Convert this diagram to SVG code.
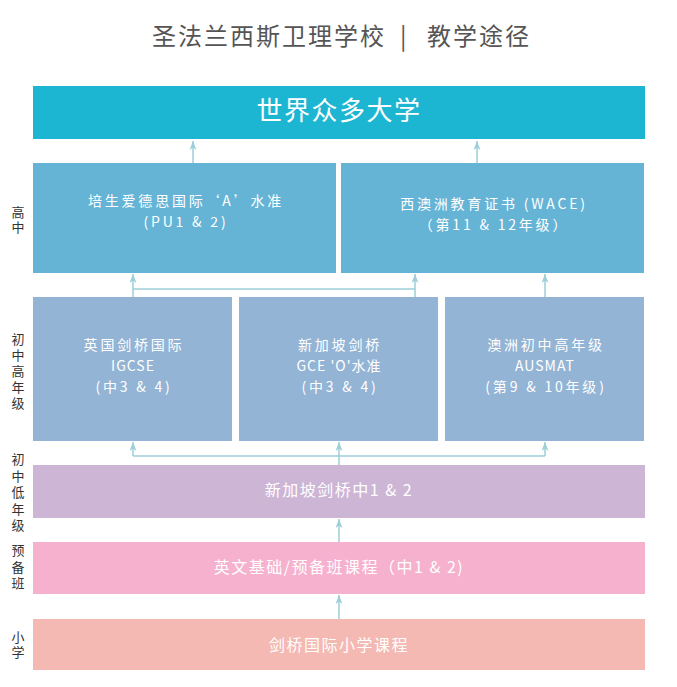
<svg xmlns="http://www.w3.org/2000/svg" width="677" height="687" viewBox="0 0 677 687">
<style>
  .bg{fill:#ffffff}
  .t{font-family:"Noto Sans CJK SC","Liberation Sans",sans-serif;fill:#ffffff;text-anchor:middle;letter-spacing:1.5px}
  .n16{font-size:16px}
  .n14{font-size:14px;letter-spacing:2.8px}
  .lat{letter-spacing:1px}
  .lab{font-family:"Noto Sans CJK SC","Liberation Serif",serif;font-size:13px;fill:#333333;writing-mode:vertical-rl;text-orientation:upright}
  .title{font-family:"Noto Sans CJK SC","Liberation Sans",sans-serif;font-size:24px;fill:#555555;letter-spacing:2px}
  .c{fill:none;stroke:#9ccfd8;stroke-width:1.5}
  .ca{fill:none;stroke:#9ccfd8;stroke-width:1.5;marker-end:url(#ah)}
</style>
<defs>
  <marker id="ah" viewBox="0 0 9 7" refX="9" refY="3.5" markerWidth="9" markerHeight="7" markerUnits="userSpaceOnUse" orient="auto">
    <path d="M0,0 L9,3.5 L0,7 L2.5,3.5 z" fill="#9ccfd8"/>
  </marker>
</defs>
<rect class="bg" x="0" y="0" width="677" height="687"/>

<g id="title">
  <text class="title" y="45"><tspan x="152">圣法兰西斯卫理学校</tspan><tspan x="400">|</tspan><tspan x="427">教学途径</tspan></text>
</g>

<g id="levels">
  <text class="lab" x="18" y="206" style="letter-spacing:2px">高中</text>
  <text class="lab" x="18" y="333" style="letter-spacing:3px">初中高年级</text>
  <text class="lab" x="18" y="453" style="letter-spacing:3.5px">初中低年级</text>
  <text class="lab" x="18" y="544" style="letter-spacing:3.5px">预备班</text>
  <text class="lab" x="18" y="631" style="letter-spacing:2px">小学</text>
</g>

<g id="connectors">
  <path class="ca" d="M193,163 V141"/>
  <path class="ca" d="M477,163 V141"/>
  <path class="c" d="M133,289 H415"/>
  <path class="ca" d="M133,297 V274"/>
  <path class="ca" d="M415,297 V274"/>
  <path class="ca" d="M545,297 V274"/>
  <path class="c" d="M133,456 H545"/>
  <path class="ca" d="M133,456 V442"/>
  <path class="ca" d="M339,465 V442"/>
  <path class="ca" d="M545,456 V442"/>
  <path class="ca" d="M339,542 V519"/>
  <path class="ca" d="M339,619 V595"/>
</g>

<g id="universities">
  <rect x="33" y="86" width="612" height="53" fill="#1cb6d3"/>
  <text class="t" x="339" y="120" style="font-size:26px">世界众多大学</text>
</g>

<g id="alevel">
  <rect x="33" y="163" width="303" height="110" fill="#65b4d6"/>
  <text class="t n14" x="186" y="206">培生爱德思国际‘A’水准</text>
  <text class="t n14" x="186" y="227">(PU1 &amp; 2)</text>
</g>

<g id="wace">
  <rect x="341" y="163" width="303" height="110" fill="#65b4d6"/>
  <text class="t n14" x="494" y="209">西澳洲教育证书 (WACE)</text>
  <text class="t n14" x="494" y="230">（第11 &amp; 12年级）</text>
</g>

<g id="igcse">
  <rect x="33" y="297" width="199" height="144" fill="#93b4d5"/>
  <text class="t n14" x="134" y="350">英国剑桥国际</text>
  <text class="t n14 lat" x="133" y="371">IGCSE</text>
  <text class="t n14" x="134" y="392">(中3 &amp; 4)</text>
</g>

<g id="olevel">
  <rect x="239" y="297" width="199" height="144" fill="#93b4d5"/>
  <text class="t n14" x="340" y="350">新加坡剑桥</text>
  <text class="t n14 lat" x="339" y="371">GCE 'O'水准</text>
  <text class="t n14" x="340" y="392">(中3 &amp; 4)</text>
</g>

<g id="ausmat">
  <rect x="445" y="297" width="199" height="144" fill="#93b4d5"/>
  <text class="t n14" x="546" y="350">澳洲初中高年级</text>
  <text class="t n14 lat" x="545" y="371">AUSMAT</text>
  <text class="t n14" x="546" y="392">(第9 &amp; 10年级)</text>
</g>

<g id="lowersec">
  <rect x="33" y="465" width="612" height="53" fill="#cdb5d6"/>
  <text class="t n16" x="339" y="496">新加坡剑桥中1 &amp; 2</text>
</g>

<g id="prep">
  <rect x="33" y="542" width="612" height="52" fill="#f5b1cd"/>
  <text class="t n16" x="339" y="573">英文基础/预备班课程（中1 &amp; 2)</text>
</g>

<g id="primary">
  <rect x="33" y="619" width="612" height="51" fill="#f4b9b2"/>
  <text class="t n16" x="339" y="651">剑桥国际小学课程</text>
</g>
</svg>
